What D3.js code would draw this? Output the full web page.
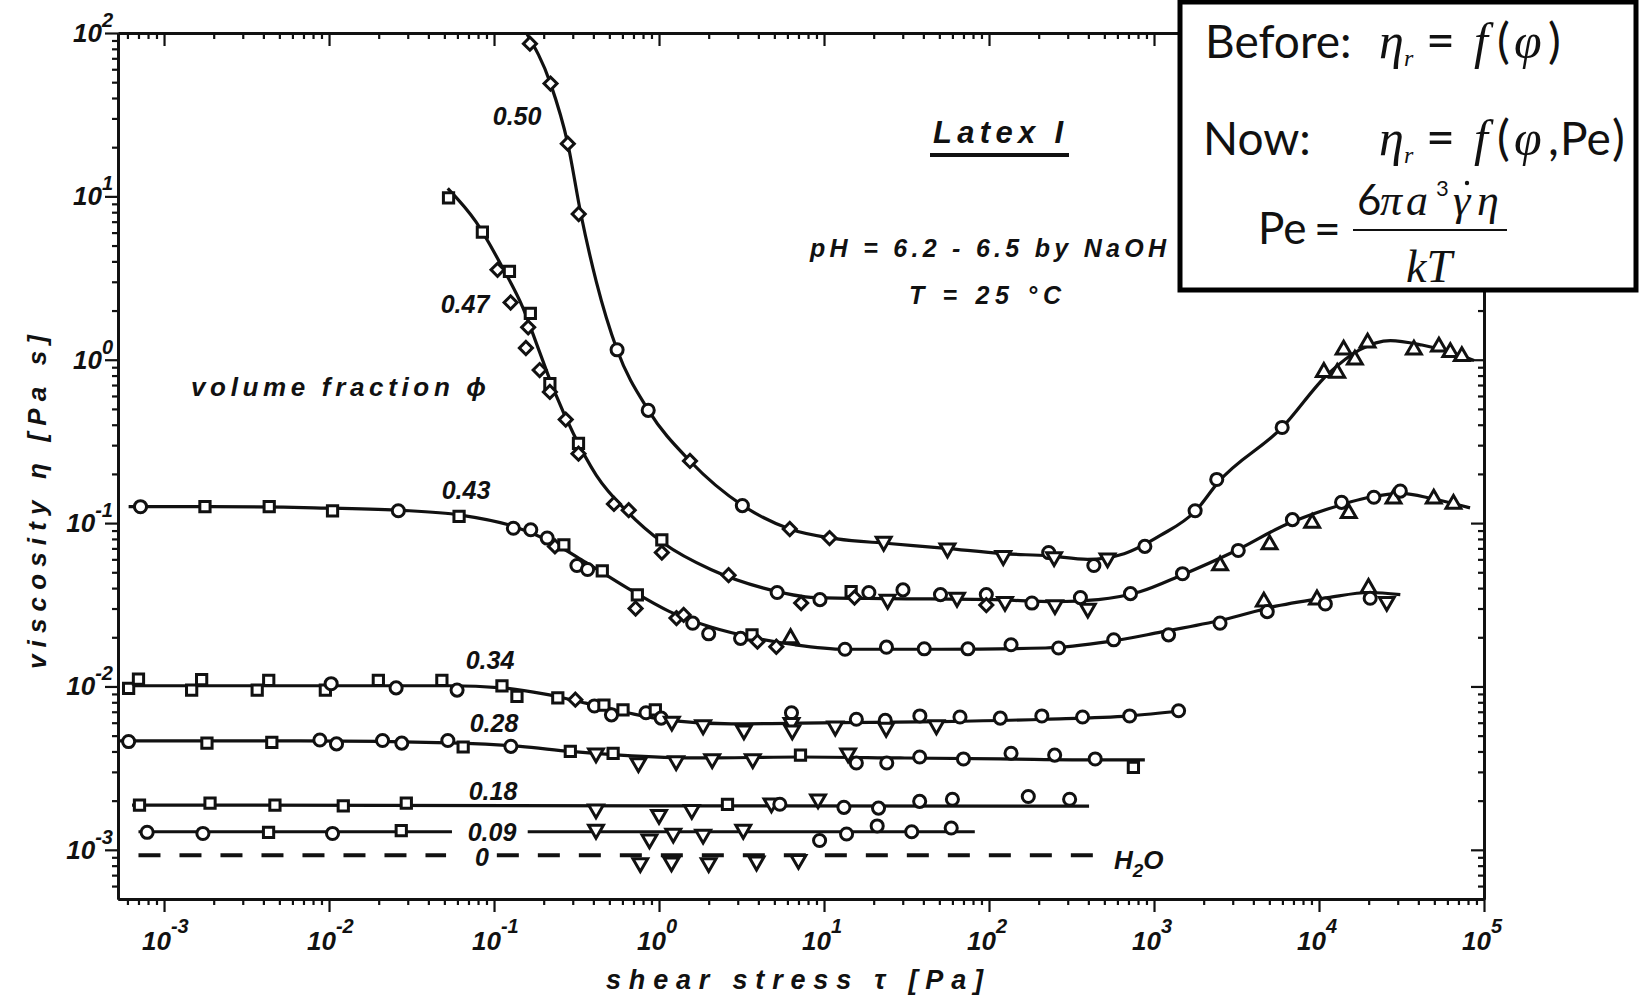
<!DOCTYPE html>
<html>
<head>
<meta charset="utf-8">
<script src="https://cdn.jsdelivr.net/npm/d3@7"></script>
<style>
  body { margin: 0; background: #fff; }
  svg { display: block; }
  .lbl { font-family: "Liberation Sans", Arial, sans-serif; font-weight: bold; font-style: italic; fill: #111; }
  .box { font-family: Lato, "Open Sans", sans-serif; fill: #111; }
  .math { font-family: "Liberation Serif", serif; font-style: italic; fill: #111; }
</style>
</head>
<body>
<div class="chart"></div>
<script>
// axis ranges (shear stress tau in Pa, viscosity eta in Pa s)
var tauDomain = [5.26e-4, 1e5];
var etaDomain = [5.0e-4, 100];
var tauExponents = [-3, -2, -1, 0, 1, 2, 3, 4, 5];
var etaExponents = [-3, -2, -1, 0, 1, 2];

// symbol codes: o circle, s square, d diamond, v triangle down, ^ triangle up
var phi50Pts = [
  [0.165, 86, "d"], [0.22, 49, "d"], [0.28, 21, "d"], [0.326, 7.8, "d"], [0.557, 1.15, "o"],
  [0.86, 0.49, "o"], [1.54, 0.24, "d"], [3.2, 0.128, "o"], [6.2, 0.092, "d"], [10.8, 0.081, "d"],
  [23, 0.077, "v"], [56, 0.070, "v"], [122, 0.063, "v"], [230, 0.066, "o"], [248, 0.062, "v"],
  [432, 0.055, "o"], [523, 0.061, "v"], [880, 0.072, "o"], [1775, 0.119, "o"], [2400, 0.185, "o"],
  [5980, 0.385, "o"], [10700, 0.84, "^"], [12900, 0.83, "^"], [14100, 1.15, "^"], [16500, 1.0, "^"],
  [19700, 1.27, "^"], [37600, 1.15, "^"], [53300, 1.2, "^"], [62500, 1.11, "^"], [73400, 1.05, "^"]
];
var phi50Line = [
  [0.157, 100], [0.22, 49], [0.28, 21], [0.336, 7.8], [0.417, 3.0], [0.557, 1.15], [0.863, 0.49],
  [1.54, 0.24], [3.22, 0.128], [6.2, 0.092], [12.0, 0.080], [24.7, 0.075], [55, 0.070], [122, 0.065],
  [230, 0.063], [396, 0.060], [659, 0.065], [1093, 0.084], [1790, 0.119], [2440, 0.177], [5985, 0.385],
  [11300, 0.815], [17600, 1.15], [27100, 1.31], [42100, 1.23], [65100, 1.10], [87100, 0.99]
];

var phi47Pts = [
  [0.053, 9.8, "s"], [0.085, 6.05, "s"], [0.105, 3.55, "d"], [0.124, 3.48, "s"], [0.126, 2.24, "d"],
  [0.166, 1.92, "s"], [0.161, 1.58, "d"], [0.156, 1.18, "d"], [0.189, 0.865, "d"], [0.218, 0.715, "s"],
  [0.218, 0.635, "d"], [0.272, 0.43, "d"], [0.325, 0.308, "s"], [0.325, 0.266, "d"], [0.533, 0.131, "d"],
  [0.655, 0.12, "d"], [1.04, 0.079, "s"], [1.04, 0.066, "d"], [2.64, 0.048, "d"], [5.2, 0.0376, "o"],
  [7.27, 0.0324, "d"], [9.45, 0.034, "o"], [14.6, 0.038, "s"], [15.3, 0.035, "d"], [18.7, 0.0376, "o"],
  [24.3, 0.034, "v"], [30.1, 0.039, "o"], [50.8, 0.0365, "o"], [64, 0.035, "v"], [96.3, 0.0365, "o"],
  [96.3, 0.0315, "d"], [125, 0.033, "v"], [182, 0.0324, "o"], [251, 0.0315, "v"], [358, 0.035, "o"],
  [397, 0.030, "v"], [720, 0.037, "o"], [1488, 0.049, "o"], [2515, 0.055, "^"], [3240, 0.068, "o"],
  [5016, 0.074, "^"], [6900, 0.105, "o"], [9090, 0.10, "^"], [13700, 0.134, "o"], [15150, 0.115, "^"],
  [21500, 0.144, "o"], [28300, 0.141, "^"], [31100, 0.157, "o"], [49600, 0.141, "^"], [65300, 0.131, "^"]
];
var phi47Line = [
  [0.0524, 11.2], [0.0776, 7.0], [0.1117, 3.72], [0.150, 2.07], [0.187, 1.145], [0.233, 0.635],
  [0.303, 0.352], [0.417, 0.196], [0.644, 0.117], [1.071, 0.075], [2.06, 0.052], [4.30, 0.040],
  [8.9, 0.035], [24.8, 0.0345], [106.6, 0.034], [254, 0.033], [459, 0.034], [820, 0.038],
  [1466, 0.048], [3060, 0.067], [6320, 0.098], [11300, 0.122], [20240, 0.144], [31580, 0.152],
  [48800, 0.141], [82300, 0.124]
];

var phi43Pts = [
  [0.00072, 0.126, "o"], [0.00177, 0.126, "s"], [0.00434, 0.126, "s"], [0.0105, 0.119, "s"], [0.0263, 0.119, "o"],
  [0.0614, 0.110, "s"], [0.131, 0.093, "o"], [0.167, 0.091, "o"], [0.21, 0.081, "o"], [0.234, 0.072, "d"],
  [0.265, 0.0735, "s"], [0.318, 0.055, "o"], [0.369, 0.052, "o"], [0.453, 0.051, "s"], [0.739, 0.0364, "s"],
  [0.721, 0.030, "d"], [1.276, 0.0262, "d"], [1.41, 0.0274, "d"], [1.60, 0.0244, "o"], [2.0, 0.021, "o"],
  [3.12, 0.0197, "o"], [3.66, 0.0207, "s"], [3.95, 0.0188, "d"], [5.14, 0.0175, "d"], [6.27, 0.0197, "^"],
  [13.4, 0.0169, "o"], [23.9, 0.0174, "o"], [40.5, 0.017, "o"], [74.5, 0.017, "o"], [136, 0.018, "o"],
  [264, 0.0172, "o"], [570, 0.0193, "o"], [1225, 0.0207, "o"], [2512, 0.0244, "o"], [4631, 0.033, "^"],
  [4855, 0.0287, "o"], [9720, 0.034, "^"], [10925, 0.032, "o"], [19950, 0.040, "^"], [20425, 0.0347, "o"],
  [25745, 0.033, "v"]
];
var phi43Line = [
  [0.00061, 0.126], [0.0019, 0.126], [0.0081, 0.124], [0.026, 0.120], [0.0626, 0.112], [0.1295, 0.096],
  [0.215, 0.078], [0.36, 0.0575], [0.644, 0.040], [1.152, 0.0288], [2.06, 0.0231], [3.73, 0.0199],
  [6.66, 0.018], [13.35, 0.0169], [51.4, 0.0169], [220, 0.0172], [529, 0.0188], [1096, 0.0215],
  [2623, 0.0256], [5470, 0.031], [11300, 0.035], [20240, 0.0376], [31100, 0.0365]
];

var phi34Pts = [
  [0.00061, 0.00975, "s"], [0.0007, 0.0111, "s"], [0.00147, 0.0095, "s"], [0.00169, 0.011, "s"], [0.00367, 0.0095, "s"],
  [0.00431, 0.0109, "s"], [0.0095, 0.0095, "s"], [0.0103, 0.0104, "o"], [0.0199, 0.0109, "s"], [0.0255, 0.0098, "o"],
  [0.0483, 0.0109, "s"], [0.0597, 0.0095, "o"], [0.1117, 0.0101, "s"], [0.1377, 0.0087, "s"], [0.2435, 0.0085, "s"],
  [0.311, 0.0083, "d"], [0.406, 0.0076, "o"], [0.4636, 0.0077, "s"], [0.515, 0.0067, "o"], [0.605, 0.0072, "s"],
  [0.834, 0.0069, "o"], [0.95, 0.0072, "s"], [1.03, 0.0064, "o"], [1.196, 0.0061, "v"], [1.85, 0.0058, "v"],
  [3.27, 0.0054, "v"], [6.35, 0.0069, "o"], [6.35, 0.0060, "v"], [6.42, 0.0054, "v"], [11.7, 0.0057, "v"],
  [15.7, 0.0063, "o"], [23.5, 0.0062, "o"], [23.8, 0.0056, "v"], [38.1, 0.0066, "o"], [48, 0.0058, "v"],
  [66.7, 0.0065, "o"], [117, 0.0064, "o"], [209, 0.0066, "o"], [369, 0.0065, "o"], [712, 0.0066, "o"],
  [1409, 0.0071, "o"]
];
var phi34Line = [
  [0.00061, 0.0101], [0.0538, 0.0101], [0.1117, 0.0098], [0.200, 0.0090], [0.360, 0.0079], [0.644, 0.0069],
  [1.152, 0.0062], [2.75, 0.0059], [11.9, 0.0060], [51.4, 0.0061], [220, 0.0063], [708, 0.0066], [1466, 0.0071]
];

var phi28Pts = [
  [0.00061, 0.0046, "o"], [0.00182, 0.0045, "s"], [0.0045, 0.00454, "s"], [0.0088, 0.0047, "o"], [0.0111, 0.00445, "o"],
  [0.0211, 0.00467, "o"], [0.0276, 0.0045, "o"], [0.0525, 0.00467, "o"], [0.065, 0.00426, "s"], [0.1265, 0.0043, "o"],
  [0.29, 0.0040, "s"], [0.415, 0.0039, "v"], [0.527, 0.0039, "s"], [0.75, 0.0034, "v"], [1.27, 0.0035, "v"],
  [2.1, 0.0036, "v"], [3.7, 0.0036, "v"], [7.2, 0.0038, "s"], [14, 0.0039, "v"], [15.7, 0.0034, "o"],
  [24, 0.0034, "o"], [38, 0.0037, "o"], [70, 0.0036, "o"], [136, 0.0039, "o"], [250, 0.0038, "o"],
  [440, 0.0036, "o"], [750, 0.0032, "s"]
];
var phi28Line = [
  [0.00054, 0.00465], [0.0067, 0.00465], [0.062, 0.0045], [0.144, 0.0043], [0.29, 0.0040], [0.58, 0.0038],
  [1.77, 0.00365], [7.2, 0.0037], [29, 0.00365], [117, 0.0036], [470, 0.00355], [880, 0.00355]
];

var phi18Pts = [
  [0.00071, 0.00188, "s"], [0.0019, 0.00193, "s"], [0.0047, 0.00188, "s"], [0.0122, 0.00186, "s"], [0.0294, 0.00193, "s"],
  [0.415, 0.00177, "v"], [1.0, 0.00164, "v"], [1.58, 0.00176, "v"], [2.6, 0.0019, "s"], [4.8, 0.00193, "v"],
  [5.4, 0.0019, "o"], [9.2, 0.00204, "v"], [13.2, 0.00182, "o"], [21.4, 0.0018, "o"], [38, 0.00198, "o"],
  [60, 0.00204, "o"], [173, 0.00212, "o"], [308, 0.00204, "o"]
];
var phi18Line = [[0.00064, 0.00188], [1.0, 0.00186], [404, 0.00185]];

var phi09Pts = [
  [0.00079, 0.00128, "o"], [0.00172, 0.00126, "o"], [0.0043, 0.00128, "s"], [0.0105, 0.00126, "o"], [0.0274, 0.00131, "s"],
  [0.415, 0.00133, "v"], [0.875, 0.00116, "v"], [1.22, 0.00126, "v"], [1.85, 0.00124, "v"], [3.24, 0.00133, "v"],
  [9.4, 0.00114, "o"], [13.7, 0.00125, "o"], [21, 0.0014, "o"], [34, 0.00129, "o"], [59, 0.00136, "o"]
];
var phi09Line = [[0.0007, 0.00129], [0.0556, 0.00129], null, [0.16, 0.00129], [82, 0.00129]];

var waterPts = [[0.77, 0.00083, "v"], [1.19, 0.00084, "v"], [2.0, 0.00083, "v"], [3.9, 0.00085, "v"], [7.0, 0.00087, "v"]];
var waterLine = [[0.0007, 0.000925], [0.0512, 0.000925], null, [0.104, 0.000925], [478, 0.000925]];

// curve labels: text, tau, eta
var curveLabels = [
  ["0.50", 0.138, 31], ["0.47", 0.0667, 2.2], ["0.43", 0.0676, 0.16], ["0.34", 0.0946, 0.01455],
  ["0.28", 0.1, 0.00598], ["0.18", 0.0986, 0.0023], ["0.09", 0.0973, 0.00129], ["0", 0.0845, 0.000906]
];

var width = 1639, height = 995;
var plot = { left: 118, right: 1484, top: 33, bottom: 899 };

var xScale = d3.scaleLog().domain(tauDomain).range([plot.left, plot.right]);
var yScale = d3.scaleLog().domain(etaDomain).range([plot.bottom, plot.top]);

var svg = d3.select('.chart')
  .append('svg')
  .attr('width', width)
  .attr('height', height);

svg.append('rect').attr('width', width).attr('height', height).attr('fill', '#fff');

svg.append('clipPath').attr('id', 'plotclip')
  .append('rect')
  .attr('x', plot.left).attr('y', plot.top)
  .attr('width', plot.right - plot.left).attr('height', plot.bottom - plot.top);

/* axes: frame with minor and major ticks */

function isDecade(v) {
  var l = Math.log10(v);
  return Math.abs(l - Math.round(l)) < 1e-6;
}
var xTicks = xScale.ticks(), yTicks = yScale.ticks();
var xMajor = xTicks.filter(isDecade), xMinor = xTicks.filter(function (v) { return !isDecade(v); });
var yMajor = yTicks.filter(isDecade), yMinor = yTicks.filter(function (v) { return !isDecade(v) && v > etaDomain[0] * 1.01; });

var axes = [
  { fn: d3.axisBottom, scale: xScale, minor: xMinor, major: xMajor, t: 'translate(0,' + plot.bottom + ')' },
  { fn: d3.axisBottom, scale: xScale, minor: xMinor, major: xMajor, t: 'translate(0,' + plot.top + ')' },
  { fn: d3.axisLeft, scale: yScale, minor: yMinor, major: yMajor, t: 'translate(' + plot.left + ',0)' },
  { fn: d3.axisLeft, scale: yScale, minor: yMinor, major: yMajor, t: 'translate(' + plot.right + ',0)' }
];
axes.forEach(function (a) {
  var g = svg.append('g').attr('transform', a.t);
  g.append('g').call(a.fn(a.scale).tickValues(a.minor).tickSize(6).tickSizeOuter(0).tickFormat(''));
  g.append('g').call(a.fn(a.scale).tickValues(a.major).tickSize(13).tickSizeOuter(0).tickFormat(''));
  g.selectAll('.domain').attr('stroke', '#111').attr('stroke-width', 2.8);
  g.selectAll('.tick line').attr('stroke', '#111').attr('stroke-width', 2.2);
});

// tick labels 10^n
svg.append('g').selectAll('text')
  .data(tauExponents)
  .enter().append('text')
  .attr('class', 'lbl')
  .attr('x', function (d) { return xScale(Math.pow(10, d)) - 22; })
  .attr('y', 950)
  .attr('font-size', 26)
  .each(function (d) {
    var t = d3.select(this);
    t.append('tspan').text('10');
    t.append('tspan').attr('dy', -17).attr('font-size', 20).text(d);
  });

svg.append('g').selectAll('text')
  .data(etaExponents)
  .enter().append('text')
  .attr('class', 'lbl')
  .attr('x', 113)
  .attr('y', function (d) { return yScale(Math.pow(10, d)) + 9; })
  .attr('text-anchor', 'end')
  .attr('font-size', 26)
  .each(function (d) {
    var t = d3.select(this);
    t.append('tspan').text('10');
    t.append('tspan').attr('dy', -15).attr('font-size', 20).text(d);
  });

/* curves */

var line = d3.line()
  .defined(function (d) { return d !== null; })
  .curve(d3.curveMonotoneX)
  .x(function (d) { return xScale(d[0]); })
  .y(function (d) { return yScale(d[1]); });

var curves = svg.append('g').attr('clip-path', 'url(#plotclip)');
[phi50Line, phi47Line, phi43Line, phi34Line, phi28Line, phi18Line, phi09Line].forEach(function (c) {
  curves.append('path')
    .attr('d', line(c))
    .attr('fill', 'none')
    .attr('stroke', '#111')
    .attr('stroke-width', 3.2);
});
curves.append('path')
  .attr('d', line(waterLine))
  .attr('fill', 'none')
  .attr('stroke', '#111')
  .attr('stroke-width', 4)
  .attr('stroke-dasharray', '22,19');

/* markers */

var symbolType = { o: d3.symbolCircle, s: d3.symbolSquare, d: d3.symbolSquare, v: d3.symbolTriangle, '^': d3.symbolTriangle };
var symbolSize = { o: 115, s: 105, d: 85, v: 95, '^': 95 };
var symbolTurn = { o: 0, s: 0, d: 45, v: 180, '^': 0 };

var allPts = [].concat(phi50Pts, phi47Pts, phi43Pts, phi34Pts, phi28Pts, phi18Pts, phi09Pts, waterPts);
svg.append('g').selectAll('path')
  .data(allPts)
  .enter().append('path')
  .attr('d', function (d) { return d3.symbol().type(symbolType[d[2]]).size(symbolSize[d[2]])(); })
  .attr('transform', function (d) {
    return 'translate(' + xScale(d[0]) + ',' + yScale(d[1]) + ') rotate(' + symbolTurn[d[2]] + ')';
  })
  .attr('fill', '#fff')
  .attr('stroke', '#111')
  .attr('stroke-width', 3);

/* labels */

svg.append('g').selectAll('text')
  .data(curveLabels)
  .enter().append('text')
  .attr('class', 'lbl')
  .attr('x', function (d) { return xScale(d[1]); })
  .attr('y', function (d) { return yScale(d[2]) + 9; })
  .attr('text-anchor', 'middle')
  .attr('font-size', 25)
  .text(function (d) { return d[0]; });

var h2o = svg.append('text').attr('class', 'lbl').attr('x', 1114).attr('y', 869).attr('font-size', 26);
h2o.append('tspan').text('H');
h2o.append('tspan').attr('dy', 8).attr('font-size', 19).text('2');
h2o.append('tspan').attr('dy', -8).text('O');

svg.append('text').attr('class', 'lbl').attr('x', 933).attr('y', 143).attr('font-size', 31)
  .attr('textLength', 130).attr('lengthAdjust', 'spacing').text('Latex I');
svg.append('line').attr('x1', 930).attr('x2', 1069).attr('y1', 155).attr('y2', 155)
  .attr('stroke', '#111').attr('stroke-width', 4);

svg.append('text').attr('class', 'lbl').attr('x', 810).attr('y', 257).attr('font-size', 25)
  .attr('textLength', 356).attr('lengthAdjust', 'spacing').text('pH = 6.2 - 6.5  by  NaOH');
svg.append('text').attr('class', 'lbl').attr('x', 909).attr('y', 304).attr('font-size', 25)
  .attr('textLength', 152).attr('lengthAdjust', 'spacing').text('T = 25 °C');
svg.append('text').attr('class', 'lbl').attr('x', 191).attr('y', 396).attr('font-size', 26)
  .attr('textLength', 295).attr('lengthAdjust', 'spacing').text('volume fraction ϕ');

svg.append('text').attr('class', 'lbl')
  .attr('transform', 'translate(46,502) rotate(-90)')
  .attr('text-anchor', 'middle').attr('font-size', 26)
  .attr('textLength', 334).attr('lengthAdjust', 'spacing')
  .text('viscosity  η  [Pa s]');

svg.append('text').attr('class', 'lbl')
  .attr('x', 606).attr('y', 989).attr('font-size', 27)
  .attr('textLength', 377).attr('lengthAdjust', 'spacing')
  .text('shear stress  τ  [Pa]');

/* the boxed note in the corner */

var box = svg.append('g');
box.append('rect')
  .attr('x', 1180).attr('y', 2).attr('width', 456).attr('height', 288)
  .attr('fill', '#fff').attr('stroke', '#000').attr('stroke-width', 5);

function put(cls, x, y, size, str) {
  return box.append('text').attr('class', cls).attr('x', x).attr('y', y).attr('font-size', size).text(str);
}
// row 1
put('box', 1205, 58, 46, 'Before:');
put('math', 1379, 58, 50, 'η');
put('math', 1404, 66, 24, 'r');
put('box', 1426, 58, 50, '=');
put('math', 1474, 58, 50, 'f');
put('box', 1497, 58, 48, '(');
put('math', 1514, 58, 50, 'φ');
put('box', 1548, 58, 48, ')');
// row 2
put('box', 1203, 155, 46, 'Now:');
put('math', 1379, 155, 50, 'η');
put('math', 1404, 163, 24, 'r');
put('box', 1426, 155, 50, '=');
put('math', 1474, 155, 50, 'f');
put('box', 1497, 155, 48, '(');
put('math', 1514, 155, 50, 'φ');
put('box', 1548, 155, 48, ',');
put('box', 1560, 155, 46, 'Pe');
put('box', 1612, 155, 48, ')');
// row 3: Peclet number
put('box', 1258, 244, 44, 'Pe');
put('box', 1314, 245, 46, '=');
box.append('line').attr('x1', 1353).attr('x2', 1507).attr('y1', 230).attr('y2', 230)
  .attr('stroke', '#111').attr('stroke-width', 2);
put('box', 1357, 215, 42, '6');
put('math', 1380, 215, 44, 'π');
put('math', 1406, 215, 44, 'a');
put('box', 1436, 196, 22, '3');
put('math', 1453, 215, 44, 'γ');
box.append('circle').attr('cx', 1467).attr('cy', 183).attr('r', 2.2).attr('fill', '#111');
put('math', 1477, 215, 44, 'η');
put('math', 1406, 282, 46, 'kT');
</script>
</body>
</html>
